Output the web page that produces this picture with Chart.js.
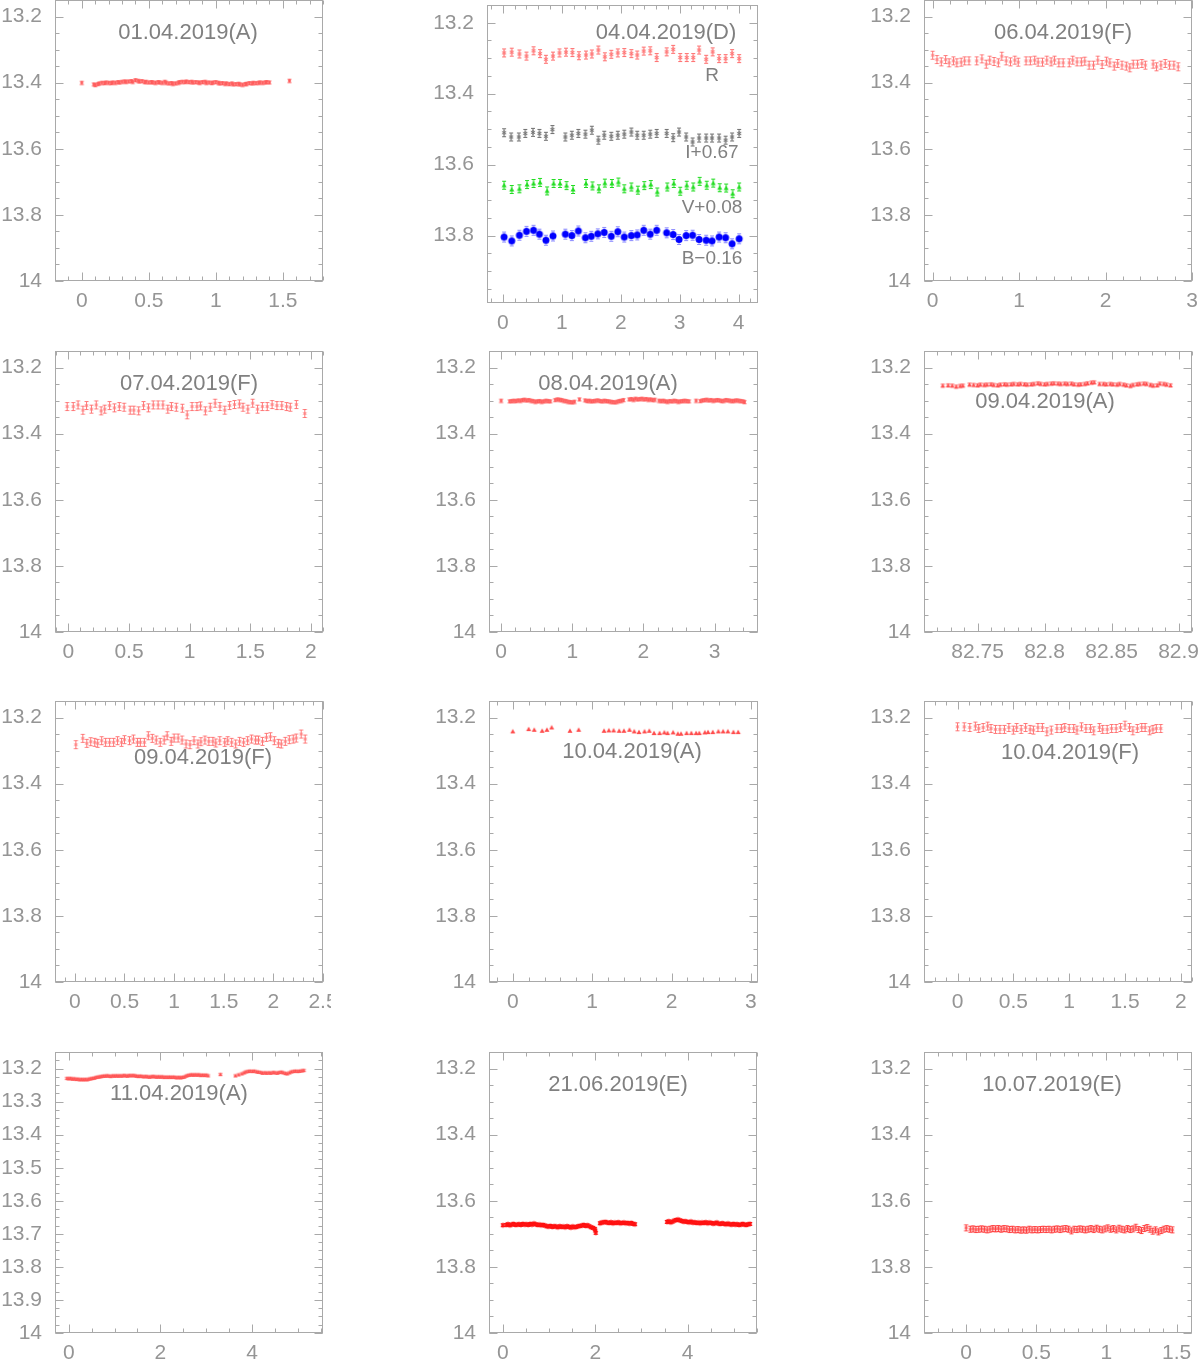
<!DOCTYPE html>
<html>
<head>
<meta charset="utf-8">
<script src="https://cdn.jsdelivr.net/npm/chart.js@4.4.1/dist/chart.umd.min.js"></script>
<style>
body { margin: 0; width: 1200px; height: 1361px; overflow: hidden; background: #fff; position: relative; font-family: 'Liberation Sans', sans-serif; }
.panel { position: absolute; overflow: hidden; }
.lbl { position: absolute; transform: translate(-50%, -50%); color: #808080; font-size: 22px; white-space: nowrap; }
.band { font-size: 19px; }
</style>
</head>
<body>
<script>
// tick labels
const yTicks = [13.2, 13.4, 13.6, 13.8, 14];
const yTicks1104 = [13.2, 13.3, 13.4, 13.5, 13.6, 13.7, 13.8, 13.9, 14];
const xTicksHalf = [0, 0.5, 1, 1.5, 2, 2.5];
const xTicksOne = [0, 1, 2, 3, 4];
const xTicksTwo = [0, 2, 4];
const xTicksJD = [82.75, 82.8, 82.85, 82.9];

// 01.04.2019 (A)
const t_0104A = [0.00,0.09,0.10,0.12,0.13,0.15,0.17,0.18,0.20,0.22,0.23,0.25,0.27,0.28,0.30,0.32,0.33,0.35,0.37,0.38,0.40,0.42,0.43,0.45,0.47,0.48,0.50,0.52,0.53,0.55,0.57,0.58,0.60,0.62,0.63,0.65,0.67,0.68,0.70,0.72,0.73,0.75,0.77,0.78,0.80,0.82,0.83,0.85,0.87,0.88,0.90,0.92,0.93,0.95,0.97,0.98,1.00,1.02,1.03,1.05,1.07,1.08,1.10,1.12,1.13,1.15,1.17,1.18,1.20,1.22,1.23,1.25,1.27,1.28,1.30,1.32,1.33,1.35,1.37,1.38,1.40,1.55];
const m_0104A = [13.400,13.405,13.407,13.404,13.402,13.400,13.401,13.399,13.400,13.401,13.399,13.400,13.398,13.399,13.397,13.396,13.397,13.396,13.395,13.397,13.392,13.394,13.396,13.395,13.398,13.397,13.399,13.398,13.399,13.400,13.398,13.399,13.400,13.397,13.400,13.402,13.401,13.403,13.402,13.400,13.398,13.397,13.398,13.396,13.398,13.397,13.399,13.398,13.399,13.400,13.398,13.397,13.400,13.399,13.401,13.399,13.398,13.400,13.402,13.401,13.403,13.402,13.404,13.402,13.405,13.404,13.403,13.405,13.406,13.404,13.403,13.401,13.402,13.400,13.401,13.400,13.399,13.400,13.399,13.398,13.399,13.394];

// 04.04.2019 (D), four bands
const t_0404D_R = [0.02,0.15,0.28,0.40,0.52,0.63,0.73,0.85,0.96,1.07,1.18,1.29,1.41,1.51,1.62,1.73,1.84,1.95,2.06,2.18,2.28,2.39,2.50,2.61,2.78,2.89,3.01,3.12,3.23,3.33,3.45,3.56,3.67,3.78,3.89,4.01];
const m_0404D_R = [13.285,13.283,13.288,13.294,13.279,13.287,13.303,13.294,13.285,13.283,13.284,13.293,13.291,13.288,13.277,13.296,13.289,13.285,13.284,13.287,13.291,13.280,13.279,13.298,13.282,13.275,13.298,13.298,13.298,13.277,13.303,13.282,13.301,13.301,13.287,13.301];
const t_0404D_I = [0.02,0.14,0.27,0.38,0.51,0.62,0.73,0.84,1.06,1.17,1.28,1.40,1.51,1.62,1.72,1.84,1.95,2.06,2.18,2.28,2.39,2.50,2.61,2.78,2.89,2.99,3.11,3.22,3.33,3.45,3.55,3.67,3.78,3.89,4.01];
const m_0404D_I = [13.510,13.522,13.522,13.512,13.509,13.512,13.520,13.501,13.522,13.517,13.512,13.514,13.503,13.531,13.517,13.520,13.517,13.514,13.508,13.517,13.517,13.514,13.512,13.512,13.524,13.508,13.522,13.536,13.525,13.525,13.525,13.525,13.531,13.522,13.512];
const t_0404D_V = [0.02,0.15,0.28,0.41,0.52,0.63,0.75,0.86,0.97,1.08,1.19,1.41,1.52,1.63,1.73,1.85,1.96,2.06,2.18,2.29,2.40,2.51,2.62,2.79,2.90,3.01,3.12,3.23,3.34,3.46,3.57,3.68,3.79,3.90,4.01];
const m_0404D_V = [13.658,13.670,13.668,13.656,13.653,13.650,13.674,13.653,13.653,13.659,13.670,13.653,13.660,13.668,13.652,13.653,13.649,13.668,13.663,13.672,13.659,13.656,13.677,13.663,13.653,13.675,13.658,13.663,13.647,13.658,13.652,13.665,13.666,13.682,13.663];
const t_0404D_B = [0.02,0.15,0.28,0.40,0.52,0.62,0.73,0.85,1.06,1.17,1.28,1.40,1.50,1.61,1.72,1.84,1.95,2.06,2.18,2.28,2.39,2.50,2.61,2.78,2.89,2.99,3.11,3.22,3.33,3.45,3.55,3.67,3.78,3.89,4.01];
const m_0404D_B = [13.804,13.815,13.799,13.788,13.785,13.796,13.813,13.801,13.796,13.800,13.787,13.806,13.802,13.795,13.791,13.802,13.789,13.804,13.800,13.798,13.785,13.796,13.785,13.792,13.797,13.811,13.800,13.799,13.811,13.813,13.815,13.804,13.806,13.823,13.809];

// 06.04.2019 (F)
const t_0604F = [0.00,0.05,0.10,0.15,0.19,0.24,0.28,0.33,0.37,0.42,0.51,0.57,0.62,0.66,0.71,0.76,0.80,0.85,0.90,0.95,0.99,1.08,1.13,1.18,1.22,1.27,1.32,1.37,1.41,1.46,1.51,1.58,1.62,1.67,1.72,1.76,1.81,1.86,1.91,1.96,2.01,2.05,2.10,2.14,2.19,2.24,2.28,2.32,2.37,2.42,2.46,2.55,2.59,2.64,2.69,2.74,2.79,2.84];
const m_0604F = [13.317,13.330,13.337,13.330,13.340,13.334,13.340,13.338,13.334,13.334,13.334,13.328,13.344,13.332,13.336,13.340,13.320,13.334,13.337,13.332,13.338,13.334,13.334,13.332,13.338,13.338,13.332,13.337,13.332,13.340,13.340,13.340,13.332,13.337,13.337,13.335,13.347,13.347,13.332,13.345,13.335,13.340,13.350,13.342,13.347,13.350,13.355,13.344,13.344,13.342,13.347,13.344,13.352,13.347,13.342,13.347,13.347,13.352];

// 07.04.2019 (F)
const t_0704F = [-0.01,0.04,0.08,0.12,0.15,0.19,0.23,0.27,0.30,0.34,0.38,0.42,0.46,0.51,0.54,0.58,0.62,0.66,0.70,0.74,0.78,0.82,0.85,0.89,0.94,0.98,1.02,1.06,1.09,1.13,1.17,1.21,1.25,1.29,1.33,1.37,1.41,1.44,1.48,1.52,1.56,1.60,1.64,1.68,1.72,1.76,1.80,1.83,1.88,1.95];
const m_0704F = [13.318,13.318,13.313,13.329,13.315,13.326,13.313,13.331,13.326,13.315,13.322,13.318,13.320,13.329,13.329,13.331,13.315,13.322,13.313,13.313,13.313,13.326,13.318,13.320,13.323,13.343,13.318,13.318,13.316,13.331,13.320,13.308,13.318,13.329,13.315,13.312,13.310,13.320,13.326,13.308,13.326,13.318,13.318,13.312,13.315,13.315,13.318,13.320,13.312,13.339];

// 08.04.2019 (A)
const t_0804A = [0.00,0.12,0.15,0.18,0.21,0.24,0.27,0.30,0.33,0.36,0.39,0.42,0.45,0.48,0.51,0.54,0.57,0.60,0.63,0.66,0.69,0.76,0.79,0.82,0.85,0.88,0.91,0.94,0.97,1.00,1.03,1.10,1.18,1.21,1.24,1.27,1.30,1.33,1.36,1.39,1.42,1.45,1.48,1.51,1.54,1.57,1.60,1.63,1.66,1.69,1.72,1.80,1.83,1.86,1.89,1.92,1.95,1.98,2.01,2.04,2.07,2.10,2.13,2.16,2.22,2.25,2.28,2.31,2.34,2.37,2.40,2.43,2.46,2.49,2.52,2.55,2.58,2.61,2.64,2.74,2.80,2.83,2.86,2.89,2.92,2.95,2.98,3.01,3.04,3.07,3.10,3.13,3.16,3.19,3.22,3.25,3.28,3.31,3.34,3.37,3.40,3.42];
const m_0804A = [13.300,13.302,13.301,13.300,13.301,13.299,13.300,13.298,13.297,13.299,13.298,13.300,13.301,13.303,13.302,13.301,13.303,13.302,13.300,13.301,13.302,13.298,13.296,13.297,13.298,13.300,13.301,13.303,13.304,13.305,13.303,13.296,13.299,13.301,13.300,13.302,13.301,13.300,13.299,13.301,13.302,13.300,13.301,13.302,13.303,13.304,13.305,13.303,13.301,13.300,13.298,13.296,13.295,13.297,13.294,13.296,13.295,13.294,13.296,13.295,13.297,13.296,13.298,13.297,13.300,13.301,13.300,13.302,13.303,13.301,13.302,13.300,13.301,13.303,13.302,13.301,13.300,13.301,13.302,13.300,13.301,13.299,13.298,13.297,13.299,13.298,13.300,13.299,13.298,13.299,13.301,13.300,13.298,13.299,13.300,13.301,13.300,13.299,13.300,13.301,13.302,13.304];

// 09.04.2019 (A), time axis in days
const t_0904A = [82.724,82.728,82.731,82.734,82.737,82.739,82.744,82.747,82.750,82.752,82.755,82.757,82.760,82.762,82.765,82.767,82.770,82.772,82.775,82.777,82.780,82.782,82.785,82.787,82.790,82.792,82.795,82.797,82.800,82.802,82.805,82.807,82.810,82.812,82.815,82.817,82.820,82.822,82.825,82.827,82.830,82.832,82.835,82.837,82.841,82.844,82.846,82.849,82.851,82.854,82.856,82.859,82.861,82.864,82.866,82.869,82.871,82.874,82.876,82.879,82.881,82.884,82.886,82.889,82.891,82.894];
const m_0904A = [13.255,13.254,13.255,13.258,13.256,13.255,13.252,13.253,13.254,13.252,13.253,13.252,13.251,13.253,13.254,13.252,13.251,13.252,13.251,13.250,13.251,13.250,13.251,13.252,13.251,13.250,13.248,13.250,13.251,13.250,13.249,13.248,13.249,13.250,13.249,13.250,13.249,13.251,13.252,13.251,13.250,13.248,13.246,13.245,13.250,13.250,13.251,13.250,13.251,13.252,13.250,13.252,13.254,13.256,13.253,13.251,13.250,13.249,13.250,13.253,13.255,13.254,13.249,13.250,13.252,13.254];

// 09.04.2019 (F)
const t_0904F = [0.01,0.08,0.12,0.16,0.20,0.23,0.27,0.31,0.35,0.39,0.43,0.47,0.50,0.55,0.59,0.63,0.66,0.70,0.74,0.78,0.82,0.86,0.90,0.93,0.97,1.00,1.04,1.08,1.12,1.16,1.20,1.24,1.27,1.31,1.35,1.39,1.42,1.46,1.51,1.54,1.58,1.62,1.66,1.70,1.74,1.78,1.82,1.85,1.89,1.93,1.97,2.01,2.05,2.08,2.12,2.16,2.20,2.23,2.28,2.32];
const m_0904F = [13.282,13.263,13.278,13.273,13.275,13.278,13.270,13.275,13.275,13.275,13.270,13.275,13.267,13.270,13.265,13.275,13.275,13.275,13.255,13.263,13.268,13.275,13.268,13.255,13.272,13.262,13.262,13.268,13.280,13.282,13.270,13.280,13.273,13.268,13.272,13.272,13.277,13.270,13.275,13.270,13.275,13.280,13.272,13.275,13.270,13.265,13.268,13.268,13.272,13.260,13.258,13.270,13.278,13.280,13.272,13.267,13.265,13.262,13.250,13.265];

// 10.04.2019 (A)
const t_1004A = [0.00,0.20,0.27,0.37,0.43,0.49,0.72,0.83,1.15,1.21,1.27,1.34,1.40,1.47,1.53,1.59,1.66,1.72,1.78,1.85,1.91,1.95,2.02,2.08,2.12,2.19,2.25,2.31,2.35,2.42,2.46,2.52,2.59,2.65,2.71,2.78,2.84];
const m_1004A = [13.242,13.235,13.237,13.240,13.237,13.230,13.240,13.237,13.240,13.239,13.239,13.240,13.240,13.237,13.242,13.244,13.242,13.240,13.247,13.247,13.245,13.247,13.245,13.249,13.249,13.247,13.247,13.247,13.247,13.245,13.244,13.244,13.242,13.242,13.242,13.244,13.244];

// 10.04.2019 (F)
const t_1004F = [0.00,0.06,0.11,0.16,0.19,0.23,0.27,0.30,0.34,0.38,0.42,0.46,0.50,0.53,0.57,0.61,0.65,0.68,0.72,0.76,0.80,0.84,0.89,0.93,0.96,1.00,1.04,1.07,1.11,1.15,1.19,1.22,1.27,1.30,1.34,1.38,1.42,1.46,1.50,1.54,1.57,1.61,1.65,1.68,1.72,1.75,1.78,1.82];
const m_1004F = [13.228,13.228,13.230,13.226,13.233,13.230,13.226,13.233,13.236,13.236,13.236,13.230,13.238,13.230,13.236,13.230,13.236,13.238,13.230,13.230,13.243,13.238,13.233,13.233,13.230,13.233,13.233,13.238,13.228,13.233,13.233,13.240,13.230,13.236,13.236,13.233,13.233,13.230,13.223,13.230,13.240,13.233,13.230,13.230,13.240,13.236,13.233,13.233];

// 11.04.2019 (A)
const t_1104A = [-0.04,0.00,0.04,0.08,0.12,0.16,0.20,0.24,0.28,0.32,0.36,0.40,0.44,0.48,0.52,0.56,0.60,0.64,0.68,0.72,0.76,0.80,0.84,0.88,0.92,0.96,1.00,1.04,1.08,1.12,1.16,1.20,1.24,1.28,1.32,1.36,1.40,1.44,1.48,1.52,1.56,1.60,1.64,1.68,1.72,1.76,1.80,1.84,1.88,1.92,1.96,2.00,2.04,2.08,2.12,2.16,2.20,2.24,2.28,2.32,2.36,2.40,2.44,2.48,2.52,2.56,2.60,2.64,2.68,2.72,2.76,2.80,2.84,2.88,2.92,2.96,3.00,3.04,3.31,3.64,3.71,3.78,3.83,3.87,3.92,3.96,4.01,4.05,4.10,4.14,4.19,4.23,4.28,4.32,4.37,4.41,4.46,4.50,4.55,4.59,4.64,4.68,4.73,4.77,4.82,4.86,4.91,4.95,5.00,5.04,5.09,5.13];
const m_1104A = [13.229,13.230,13.229,13.231,13.230,13.232,13.231,13.233,13.232,13.233,13.232,13.233,13.231,13.230,13.229,13.228,13.226,13.225,13.224,13.223,13.222,13.222,13.221,13.222,13.223,13.221,13.222,13.221,13.222,13.221,13.222,13.220,13.221,13.222,13.220,13.221,13.220,13.221,13.222,13.223,13.222,13.223,13.224,13.223,13.224,13.225,13.224,13.223,13.224,13.225,13.224,13.225,13.224,13.226,13.225,13.226,13.225,13.226,13.225,13.226,13.227,13.226,13.227,13.226,13.225,13.222,13.220,13.219,13.218,13.219,13.218,13.219,13.218,13.220,13.219,13.220,13.219,13.221,13.217,13.221,13.218,13.215,13.212,13.209,13.208,13.207,13.208,13.207,13.209,13.210,13.211,13.213,13.212,13.213,13.212,13.213,13.211,13.212,13.213,13.211,13.210,13.212,13.214,13.215,13.212,13.209,13.208,13.207,13.208,13.207,13.206,13.205];

// 21.06.2019 (E)
const t_2106E = [0.00,0.07,0.11,0.15,0.19,0.23,0.27,0.31,0.35,0.39,0.43,0.47,0.51,0.55,0.59,0.63,0.67,0.71,0.75,0.79,0.83,0.87,0.91,0.95,0.99,1.03,1.07,1.11,1.15,1.19,1.23,1.27,1.31,1.35,1.39,1.43,1.47,1.51,1.55,1.59,1.63,1.67,1.71,1.75,1.79,1.83,1.87,1.91,1.95,1.99,2.00,2.01,2.10,2.14,2.18,2.22,2.26,2.30,2.34,2.38,2.42,2.46,2.50,2.54,2.58,2.62,2.66,2.70,2.74,2.78,2.82,2.86,3.55,3.59,3.63,3.67,3.71,3.75,3.79,3.83,3.87,3.91,3.95,3.99,4.03,4.07,4.11,4.15,4.19,4.23,4.27,4.31,4.35,4.39,4.43,4.47,4.51,4.55,4.59,4.63,4.67,4.71,4.75,4.79,4.83,4.87,4.91,4.95,4.99,5.03,5.07,5.11,5.15,5.19,5.23,5.27,5.31,5.35];
const m_2106E = [13.674,13.673,13.671,13.674,13.672,13.670,13.673,13.672,13.671,13.673,13.670,13.672,13.671,13.673,13.670,13.672,13.669,13.671,13.673,13.672,13.674,13.673,13.675,13.677,13.678,13.676,13.679,13.677,13.678,13.680,13.677,13.679,13.678,13.680,13.677,13.679,13.681,13.678,13.680,13.679,13.677,13.676,13.675,13.673,13.676,13.674,13.677,13.680,13.682,13.685,13.690,13.697,13.668,13.666,13.665,13.664,13.666,13.667,13.665,13.668,13.666,13.667,13.665,13.668,13.667,13.666,13.668,13.667,13.669,13.667,13.670,13.671,13.664,13.662,13.665,13.663,13.660,13.658,13.657,13.659,13.661,13.663,13.662,13.664,13.665,13.663,13.666,13.665,13.667,13.666,13.668,13.666,13.667,13.665,13.668,13.666,13.667,13.669,13.668,13.666,13.669,13.670,13.668,13.670,13.671,13.669,13.671,13.672,13.670,13.672,13.671,13.673,13.672,13.670,13.672,13.673,13.671,13.670];

// 10.07.2019 (E)
const t_1007E = [0.00,0.03,0.05,0.07,0.09,0.11,0.13,0.15,0.17,0.19,0.21,0.23,0.25,0.27,0.29,0.31,0.33,0.35,0.37,0.39,0.41,0.43,0.45,0.47,0.49,0.51,0.53,0.55,0.57,0.59,0.61,0.63,0.65,0.67,0.69,0.71,0.73,0.75,0.77,0.79,0.81,0.83,0.85,0.87,0.89,0.91,0.93,0.95,0.97,0.99,1.01,1.03,1.05,1.07,1.09,1.11,1.13,1.15,1.17,1.19,1.21,1.23,1.25,1.27,1.29,1.31,1.33,1.35,1.37,1.39,1.41,1.43,1.45,1.47];
const m_1007E = [13.682,13.686,13.685,13.687,13.686,13.685,13.686,13.688,13.686,13.684,13.685,13.684,13.686,13.684,13.685,13.687,13.686,13.688,13.687,13.689,13.688,13.689,13.686,13.688,13.687,13.688,13.687,13.686,13.687,13.686,13.688,13.686,13.685,13.687,13.685,13.684,13.686,13.691,13.686,13.687,13.685,13.686,13.688,13.686,13.684,13.687,13.683,13.686,13.688,13.685,13.682,13.686,13.684,13.688,13.683,13.686,13.688,13.684,13.687,13.685,13.680,13.687,13.690,13.684,13.681,13.686,13.692,13.688,13.694,13.690,13.686,13.684,13.686,13.688];

// small point symbols with error bars
function marker(color, shape, size, bar, barColor) {
  const w = Math.max(size, 4) + 3, h = Math.max(size, 2 * bar) + 3;
  const c = document.createElement('canvas');
  c.width = w; c.height = h;
  const g = c.getContext('2d');
  const cx = w / 2, cy = h / 2, r = size / 2;
  if (bar > 0) {
    g.strokeStyle = barColor || color;
    g.lineWidth = 1;
    g.beginPath();
    g.moveTo(cx, cy - bar); g.lineTo(cx, cy + bar);
    g.moveTo(cx - 2, cy - bar); g.lineTo(cx + 2, cy - bar);
    g.moveTo(cx - 2, cy + bar); g.lineTo(cx + 2, cy + bar);
    g.stroke();
  }
  g.fillStyle = color;
  g.strokeStyle = color;
  if (shape === 'dot') {
    g.beginPath(); g.arc(cx, cy, r, 0, Math.PI * 2); g.fill();
  } else if (shape === 'tri') {
    g.beginPath();
    g.moveTo(cx, cy - r); g.lineTo(cx + r, cy + r * 0.8); g.lineTo(cx - r, cy + r * 0.8);
    g.closePath(); g.fill();
  } else {
    g.lineWidth = 1;
    g.beginPath();
    for (let k = 0; k < 3; k++) {
      const a = Math.PI / 2 + k * Math.PI / 3;
      g.moveTo(cx + r * Math.cos(a), cy + r * Math.sin(a));
      g.lineTo(cx - r * Math.cos(a), cy - r * Math.sin(a));
    }
    g.stroke();
  }
  return c;
}

const mkA = marker('#ff5c5c', 'star', 3.5, 1.5);
const mkF = marker('#ff7676', 'star', 4, 4);
const mkTri = marker('#ff4c4c', 'tri', 4, 1.5);
const mkTri2 = marker('#ff4c4c', 'tri', 5, 0);
const mkThin = marker('#ff5454', 'tri', 3.5, 1);
const mkE = marker('#ff1010', 'star', 5, 1.5);
const mkE2 = marker('#ff4040', 'star', 4, 3);
const mkR = marker('#ff7070', 'star', 5, 4);
const mkI = marker('#707070', 'star', 5, 4);
const mkV = marker('#22dd22', 'tri', 5, 4);
const mkB = marker('#0000ff', 'dot', 7, 5, '#8c8cff');

const panels = [
  { box: [55, 0, 323, 281], x: [-0.2, 1.8], xt: xTicksHalf, xm: 0.1, y: [13.15, 14], yt: yTicks, ym: 0.05,
    sets: [[t_0104A, m_0104A, mkA]], texts: [['01.04.2019(A)', 188, 32]] },
  { box: [487, 5, 758, 303], x: [-0.27, 4.33], xt: xTicksOne, xm: 0.2, y: [13.15, 13.99], yt: yTicks, ym: 0.05,
    sets: [[t_0404D_R, m_0404D_R, mkR], [t_0404D_I, m_0404D_I, mkI], [t_0404D_V, m_0404D_V, mkV], [t_0404D_B, m_0404D_B, mkB]],
    texts: [['04.04.2019(D)', 666, 32], ['R', 712, 75, 'band'], ['I+0.67', 712, 152, 'band'], ['V+0.08', 712, 207, 'band'], ['B\u22120.16', 712, 258, 'band']] },
  { box: [924, 0, 1192, 281], x: [-0.1, 3.0], xt: xTicksOne, xm: 0.2, y: [13.15, 14], yt: yTicks, ym: 0.05,
    sets: [[t_0604F, m_0604F, mkF]], texts: [['06.04.2019(F)', 1063, 32]] },
  { box: [55, 351, 323, 632], x: [-0.11, 2.1], xt: xTicksHalf, xm: 0.1, y: [13.15, 14], yt: yTicks, ym: 0.05,
    sets: [[t_0704F, m_0704F, mkF]], texts: [['07.04.2019(F)', 189, 383]] },
  { box: [489, 351, 758, 632], x: [-0.17, 3.61], xt: xTicksOne, xm: 0.2, y: [13.15, 14], yt: yTicks, ym: 0.05,
    sets: [[t_0804A, m_0804A, mkA]], texts: [['08.04.2019(A)', 608, 383]] },
  { box: [924, 351, 1192, 632], x: [82.71, 82.91], xt: xTicksJD, xm: 0.01, y: [13.15, 14], yt: yTicks, ym: 0.05,
    sets: [[t_0904A, m_0904A, mkTri]], texts: [['09.04.2019(A)', 1045, 401]] },
  { box: [55, 701, 323, 982], x: [-0.2, 2.5], xt: xTicksHalf, xm: 0.1, y: [13.15, 14], yt: yTicks, ym: 0.05, clipRight: 331,
    sets: [[t_0904F, m_0904F, mkF]], texts: [['09.04.2019(F)', 203, 757]] },
  { box: [489, 701, 758, 982], x: [-0.3, 3.09], xt: xTicksOne, xm: 0.2, y: [13.15, 14], yt: yTicks, ym: 0.05,
    sets: [[t_1004A, m_1004A, mkTri2]], texts: [['10.04.2019(A)', 632, 751]] },
  { box: [924, 701, 1192, 982], x: [-0.3, 2.1], xt: xTicksHalf, xm: 0.1, y: [13.15, 14], yt: yTicks, ym: 0.05,
    sets: [[t_1004F, m_1004F, mkF]], texts: [['10.04.2019(F)', 1070, 752]] },
  { box: [55, 1052, 323, 1333], x: [-0.3, 5.55], xt: xTicksTwo, xm: 0.5, y: [13.15, 14], yt: yTicks1104, ym: 0.025,
    sets: [[t_1104A, m_1104A, mkThin]], texts: [['11.04.2019(A)', 179, 1093]] },
  { box: [489, 1052, 757, 1333], x: [-0.3, 5.5], xt: xTicksTwo, xm: 0.5, y: [13.15, 14], yt: yTicks, ym: 0.05,
    sets: [[t_2106E, m_2106E, mkE]], texts: [['21.06.2019(E)', 618, 1084]] },
  { box: [924, 1052, 1192, 1333], x: [-0.3, 1.61], xt: xTicksHalf, xm: 0.1, y: [13.15, 14], yt: yTicks, ym: 0.05,
    sets: [[t_1007E, m_1007E, mkE2]], texts: [['10.07.2019(E)', 1052, 1084]] }
];

// frame with inward major/minor ticks on all four sides
const framePlugin = {
  id: 'frame',
  afterDraw(chart, args, opts) {
    const { ctx, chartArea: a, scales: { x, y } } = chart;
    const L = Math.round(a.left) + 0.5, R = Math.round(a.right) - 0.5;
    const T = Math.round(a.top) + 0.5, B = Math.round(a.bottom) - 0.5;
    ctx.save();
    ctx.strokeStyle = '#a9a9a9';
    ctx.lineWidth = 1;
    ctx.strokeRect(L, T, R - L, B - T);
    ctx.beginPath();
    const xt = (v, len) => {
      const p = Math.round(x.getPixelForValue(v)) + 0.5;
      ctx.moveTo(p, B); ctx.lineTo(p, B - len);
      ctx.moveTo(p, T); ctx.lineTo(p, T + len);
    };
    const yt = (v, len) => {
      const p = Math.round(y.getPixelForValue(v)) + 0.5;
      ctx.moveTo(L, p); ctx.lineTo(L + len, p);
      ctx.moveTo(R, p); ctx.lineTo(R - len, p);
    };
    for (let k = Math.ceil(x.min / opts.xm - 1e-6); k * opts.xm <= x.max + 1e-9; k++) xt(k * opts.xm, 4);
    for (let k = Math.ceil(y.min / opts.ym - 1e-6); k * opts.ym <= y.max + 1e-9; k++) yt(k * opts.ym, 4);
    x.ticks.forEach(t => xt(t.value, 8));
    y.ticks.forEach(t => yt(t.value, 8));
    ctx.stroke();
    ctx.restore();
  }
};

Chart.defaults.font.family = "'Liberation Sans', sans-serif";
Chart.defaults.font.size = 21;
Chart.defaults.color = '#959595';

const YW = 60, XH = 45, PT = 10, PR = 22;
const fmt = v => String(Number(v.toFixed(3)));
const within = (list, lo, hi) => list.filter(v => v >= lo - 1e-9 && v <= hi + 1e-9);

panels.forEach(p => {
  const [L, T, R, B] = p.box;
  const W = R - L + YW + PR, H = B - T + PT + XH;
  const wrap = document.createElement('div');
  wrap.className = 'panel';
  wrap.style.left = (L - YW) + 'px';
  wrap.style.top = (T - PT) + 'px';
  wrap.style.width = (p.clipRight ? p.clipRight - (L - YW) : W) + 'px';
  wrap.style.height = H + 'px';
  const cv = document.createElement('canvas');
  cv.width = W; cv.height = H;
  wrap.appendChild(cv);
  document.body.appendChild(wrap);

  new Chart(cv, {
    type: 'scatter',
    data: {
      datasets: p.sets.map(([xs, ys, mk]) => ({
        data: xs.map((v, i) => ({ x: v, y: ys[i] })),
        pointStyle: mk,
        pointRadius: 3,
        showLine: false
      }))
    },
    options: {
      responsive: false,
      devicePixelRatio: 1,
      animation: false,
      events: [],
      layout: { padding: { left: 0, top: PT, right: PR, bottom: 0 } },
      plugins: { legend: { display: false }, tooltip: { enabled: false }, frame: { xm: p.xm, ym: p.ym } },
      scales: {
        x: {
          type: 'linear', position: 'bottom', min: p.x[0], max: p.x[1],
          grid: { display: false, drawTicks: false }, border: { display: false },
          ticks: { padding: 8, maxRotation: 0, autoSkip: false, callback: v => fmt(v) },
          afterBuildTicks: s => { s.ticks = within(p.xt, p.x[0], p.x[1]).map(v => ({ value: v })); },
          afterFit: s => { s.height = XH; s.paddingLeft = 0; s.paddingRight = 0; }
        },
        y: {
          type: 'linear', position: 'left', reverse: true, min: p.y[0], max: p.y[1],
          grid: { display: false, drawTicks: false }, border: { display: false },
          ticks: { padding: 13, autoSkip: false, callback: v => fmt(v) },
          afterBuildTicks: s => { s.ticks = within(p.yt, p.y[0], p.y[1]).map(v => ({ value: v })); },
          afterFit: s => { s.width = YW; s.paddingTop = 0; s.paddingBottom = 0; }
        }
      }
    },
    plugins: [framePlugin]
  });

  p.texts.forEach(([txt, cx, cy, cls]) => {
    const d = document.createElement('div');
    d.className = 'lbl' + (cls ? ' ' + cls : '');
    d.textContent = txt;
    d.style.left = cx + 'px';
    d.style.top = cy + 'px';
    document.body.appendChild(d);
  });
});
</script>
</body>
</html>
